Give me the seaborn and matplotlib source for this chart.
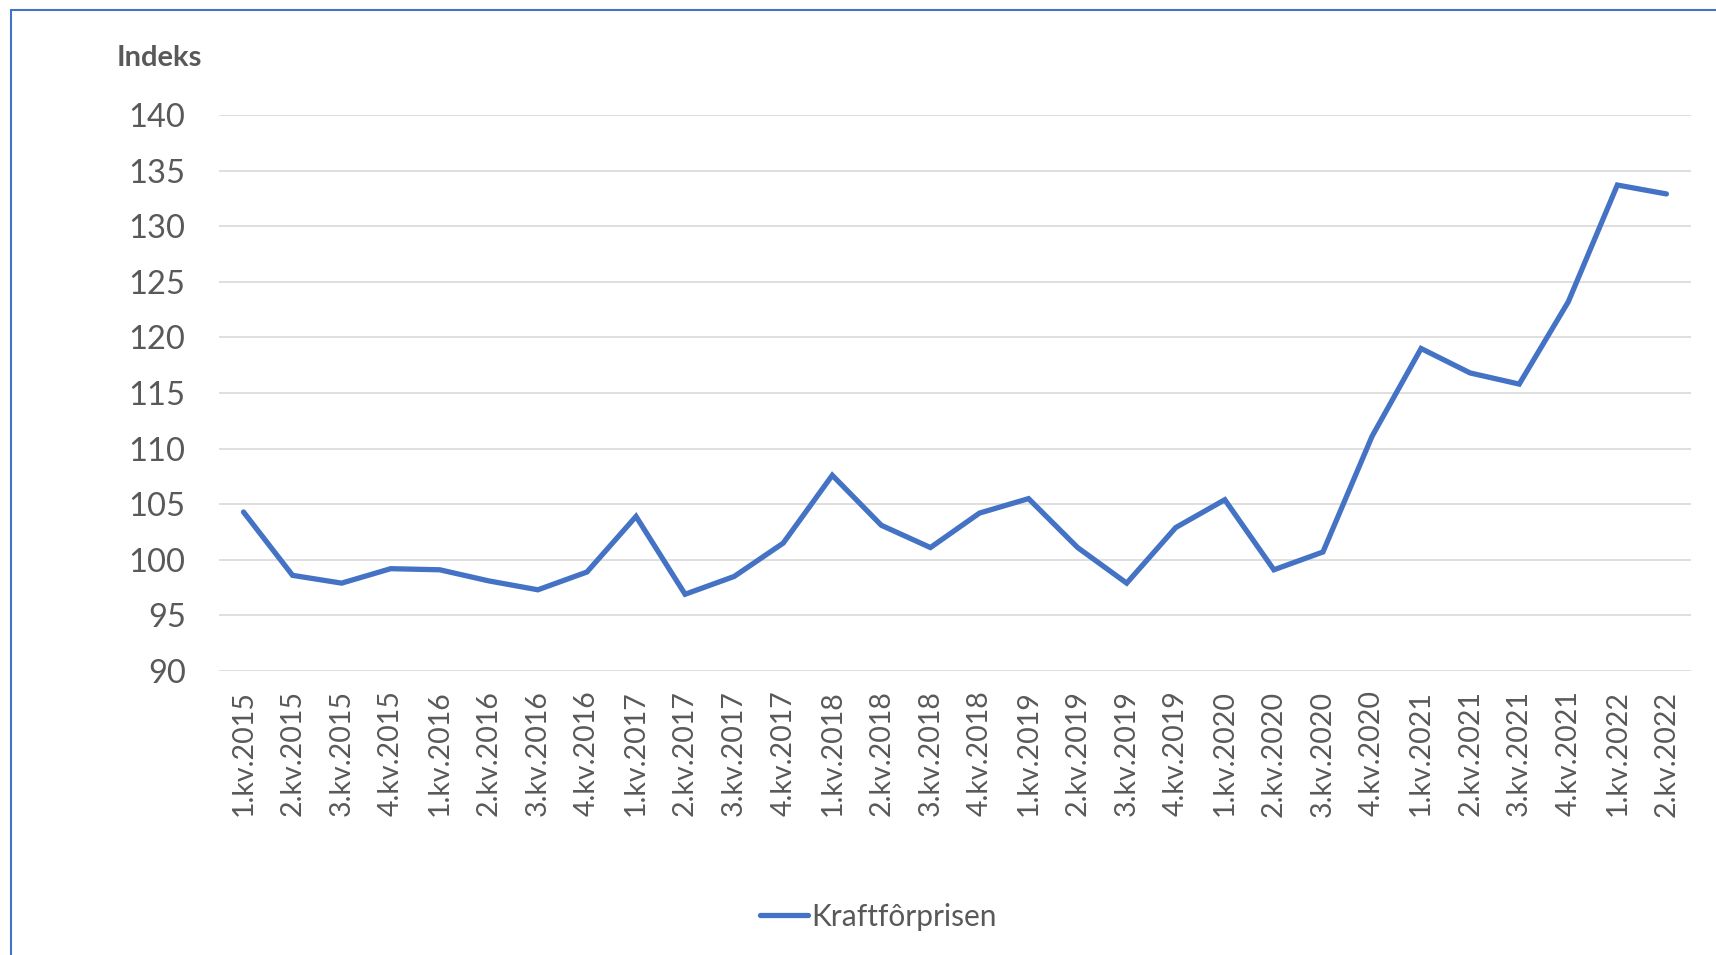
import seaborn as sns
import matplotlib.pyplot as plt
from matplotlib.lines import Line2D

# kvartaler og indeksverdier
kvartaler = [
    "1.kv.2015", "2.kv.2015", "3.kv.2015", "4.kv.2015",
    "1.kv.2016", "2.kv.2016", "3.kv.2016", "4.kv.2016",
    "1.kv.2017", "2.kv.2017", "3.kv.2017", "4.kv.2017",
    "1.kv.2018", "2.kv.2018", "3.kv.2018", "4.kv.2018",
    "1.kv.2019", "2.kv.2019", "3.kv.2019", "4.kv.2019",
    "1.kv.2020", "2.kv.2020", "3.kv.2020", "4.kv.2020",
    "1.kv.2021", "2.kv.2021", "3.kv.2021", "4.kv.2021",
    "1.kv.2022", "2.kv.2022",
]
kraftforprisen = [
    104.3, 98.6, 97.9, 99.2,
    99.1, 98.1, 97.3, 98.9,
    103.9, 96.9, 98.5, 101.5,
    107.6, 103.1, 101.1, 104.2,
    105.5, 101.1, 97.9, 102.9,
    105.4, 99.1, 100.7, 111.1,
    119.0, 116.8, 115.8, 123.2,
    133.7, 132.9,
]
y_ticks = [90, 95, 100, 105, 110, 115, 120, 125, 130, 135, 140]

sns.set_theme(style="white")
plt.rcParams["font.family"] = ["Lato", "DejaVu Sans"]

tekst = "#595959"
blaa = "#4472C4"

fig = plt.figure(figsize=(17.16, 9.55), dpi=100)
ax = fig.add_axes([0.1276, 0.2974, 0.8578, 0.5822])

x = list(range(len(kvartaler)))
sns.lineplot(x=x, y=kraftforprisen, ax=ax, color=blaa, linewidth=3.8,
             solid_capstyle="round", solid_joinstyle="miter")

ax.set_xlim(-0.5, len(kvartaler) - 0.5)
ax.set_ylim(90, 140)
ax.set_yticks(y_ticks)
ax.set_xticks(x)
ax.set_xticklabels(kvartaler, rotation=90)
ax.tick_params(axis="y", length=0, pad=24, labelsize=23.5, labelcolor=tekst)
ax.tick_params(axis="x", length=0, pad=14, labelsize=20.5, labelcolor=tekst)
ax.yaxis.grid(True, color="#D9D9D9", linewidth=1.2)
ax.set_axisbelow(True)
for s in ax.spines.values():
    s.set_visible(False)

fig.text(0.0682, 0.939, "Indeks", fontsize=21, fontweight="bold",
         color=tekst, va="center", ha="left")

handle = Line2D([], [], color=blaa, linewidth=3.8, solid_capstyle="round")
fig.legend([handle], ["Kraftfôrprisen"], loc="center", bbox_to_anchor=(0.512, 0.040),
           frameon=False, fontsize=21.5, labelcolor=tekst, handlelength=1.6,
           handletextpad=0.1)

# ramme (venstre og topp)
fig.add_artist(Line2D([0.0064, 0.0064], [0, 0.9895], color=blaa, linewidth=1.5,
                      transform=fig.transFigure))
fig.add_artist(Line2D([0.0064, 1], [0.9895, 0.9895], color=blaa, linewidth=1.5,
                      transform=fig.transFigure))

plt.savefig("out.png", dpi=100)
